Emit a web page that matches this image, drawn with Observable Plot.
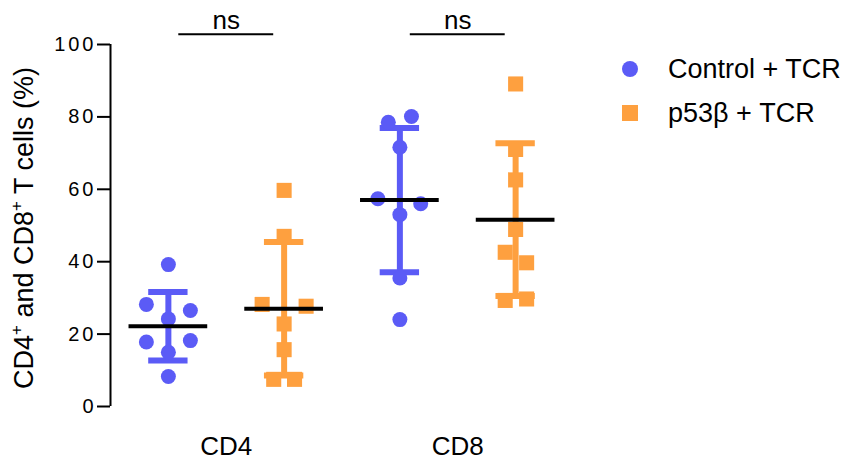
<!DOCTYPE html>
<html>
<head>
<meta charset="utf-8">
<script src="https://cdn.jsdelivr.net/npm/d3@7"></script>
<script src="https://cdn.jsdelivr.net/npm/@observablehq/plot@0.6"></script>
<style>
  html, body { margin: 0; padding: 0; background: #fff; }
  #wrap { position: relative; width: 841px; height: 463px; font-family: "Liberation Sans", Arial, sans-serif; }
  #chart { position: absolute; left: 0; top: 0; }
  #legend { position: absolute; left: 620px; top: 47px; font-size: 27px; color: #000; }
  .item { display: flex; align-items: center; height: 44px; }
  .sw { width: 20px; height: 20px; display: flex; align-items: center; justify-content: center; margin-right: 28px; }
</style>
</head>
<body>
<div id="wrap"><div id="chart"></div><div id="legend"></div></div>
<script>
// ---- data ----
const cellTypes = ["CD4", "CD8"];
const conditions = ["Control + TCR", "p53β + TCR"];
const colors = ["#5b5bf6", "#fea03f"];
const symbols = ["circle", "square"];

const controlCD4 = [39.2, 28.2, 26.5, 24.2, 17.8, 18.2, 15.0, 8.3];
const controlCD4Jitter = [0, -0.19, 0.19, 0, -0.19, 0.19, 0, 0];
const p53CD4 = [59.7, 47.0, 28.2, 27.7, 22.8, 15.7, 7.5, 7.5];
const p53CD4Jitter = [0, 0, -0.19, 0.19, 0, 0, -0.09, 0.09];
const controlCD8 = [78.5, 80.1, 71.6, 57.4, 56.0, 53.0, 35.5, 24.0];
const controlCD8Jitter = [-0.1, 0.1, 0, -0.19, 0.18, 0, 0, 0];
const p53CD8 = [89.1, 71.0, 62.6, 48.9, 42.6, 39.7, 29.3, 29.7];
const p53CD8Jitter = [0, 0, 0, 0, -0.09, 0.095, -0.09, 0.095];

const significance = ["ns", "ns"];
const yTicks = [0, 20, 40, 60, 80, 100];

// ---- build tables ----
const groups = [
  {cell: 0, cond: 0, values: controlCD4, jitter: controlCD4Jitter},
  {cell: 0, cond: 1, values: p53CD4, jitter: p53CD4Jitter},
  {cell: 1, cond: 0, values: controlCD8, jitter: controlCD8Jitter},
  {cell: 1, cond: 1, values: p53CD8, jitter: p53CD8Jitter}
];
const points = [];
const summary = [];
for (const g of groups) {
  const base = g.cell * 2 + g.cond + 1;
  g.values.forEach((v, i) => points.push({x: base + g.jitter[i], y: v, cond: conditions[g.cond]}));
  const m = d3.mean(g.values), s = d3.deviation(g.values);
  summary.push({x: base, mean: m, lo: m - s, hi: m + s, cond: conditions[g.cond], color: colors[g.cond]});
}
const xTickPos = cellTypes.map((c, i) => i * 2 + 1.5);
const brackets = significance.map((s, i) => ({x1: i * 2 + 1.09, x2: i * 2 + 1.91, label: s, xm: i * 2 + 1.5}));

const capHalf = 0.17, meanHalf = 0.34;
const colorScale = {domain: conditions, range: colors};

const plot = Plot.plot({
  width: 573,
  height: 463,
  marginLeft: 110,
  marginRight: 0,
  marginTop: 44,
  marginBottom: 57,
  style: {fontFamily: "Liberation Sans, Arial, sans-serif", fontSize: "26px", color: "#000", background: "#fff", overflow: "visible"},
  x: {domain: [0.5, 4.5], axis: null},
  y: {domain: [0, 100], axis: null},
  color: colorScale,
  marks: [
    Plot.ruleX([0.5], {y1: 0, y2: 100, stroke: "#000", strokeWidth: 2}),
    Plot.axisY({ticks: yTicks, tickSize: 13, tickPadding: 1, fontSize: 20, strokeWidth: 2, label: null, tickFormat: d => String(d)}),
    Plot.axisX({ticks: xTickPos, tickSize: 0, tickPadding: 30, fontSize: 26, label: null, tickFormat: (d) => cellTypes[xTickPos.indexOf(d)]}),
    // error bars (mean ± SD)
    Plot.ruleX(summary, {x: "x", y1: "lo", y2: "hi", stroke: "cond", strokeWidth: 6}),
    Plot.ruleY(summary, {y: "hi", x1: d => d.x - capHalf, x2: d => d.x + capHalf, stroke: "cond", strokeWidth: 6}),
    Plot.ruleY(summary, {y: "lo", x1: d => d.x - capHalf, x2: d => d.x + capHalf, stroke: "cond", strokeWidth: 6}),
    // points
    Plot.dot(points.filter(d => d.cond === conditions[0]), {x: "x", y: "y", fill: "cond", r: 7.5, symbol: "circle"}),
    Plot.dot(points.filter(d => d.cond === conditions[1]), {x: "x", y: "y", fill: "cond", r: 8.5, symbol: "square"}),
    // mean lines
    Plot.ruleY(summary, {y: "mean", x1: d => d.x - meanHalf, x2: d => d.x + meanHalf, stroke: "#000", strokeWidth: 4}),
    // significance brackets
    Plot.ruleY(brackets, {y: 102.8, x1: "x1", x2: "x2", stroke: "#000", strokeWidth: 2}),
    Plot.text(brackets, {x: "xm", y: 106.7, text: "label", fontSize: 26, fill: "#000"})
  ]
});

// letter-spacing on y tick labels
d3.select(plot).selectAll("g[aria-label='y-axis tick label'] text").style("letter-spacing", "3px");

// y-axis title with superscripts
const t = d3.select(plot).append("text")
  .attr("transform", "translate(24,228) rotate(-90)")
  .attr("text-anchor", "middle")
  .attr("dy", "0.35em")
  .attr("font-size", 27)
  .attr("fill", "#000");
t.append("tspan").text("CD4");
t.append("tspan").attr("dy", -11).attr("font-size", 17).text("+");
t.append("tspan").attr("dy", 11).text(" and CD8");
t.append("tspan").attr("dy", -11).attr("font-size", 17).text("+");
t.append("tspan").attr("dy", 11).text(" T cells (%)");

document.getElementById("chart").appendChild(plot);

// legend
const legend = d3.select("#legend");
conditions.forEach((c, i) => {
  const item = legend.append("div").attr("class", "item");
  const sw = item.append("svg").attr("class", "sw").attr("width", 20).attr("height", 20);
  if (symbols[i] === "circle") sw.append("circle").attr("cx", 10).attr("cy", 10).attr("r", 8).attr("fill", colors[i]);
  else sw.append("rect").attr("x", 2).attr("y", 2).attr("width", 16).attr("height", 16).attr("fill", colors[i]);
  item.append("span").text(c);
});
</script>
</body>
</html>
